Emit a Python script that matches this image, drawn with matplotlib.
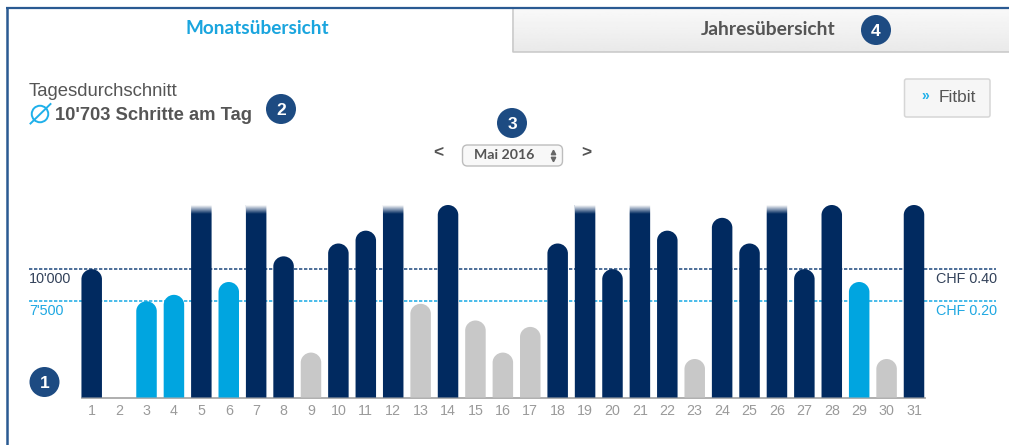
import numpy as np
import matplotlib
matplotlib.use("Agg")
import matplotlib.pyplot as plt
from matplotlib.patches import Ellipse, FancyBboxPatch, Circle
from matplotlib.path import Path
from matplotlib.transforms import blended_transform_factory

days = list(range(1, 32))
steps = [10000, 0, 7500, 8000, 15000, 9000, 15000, 11000, 3500, 12000, 13000, 15000, 7300, 15000, 6000,
         3500, 5500, 12000, 15000, 10000, 15000, 13000, 3000, 14000, 12000, 15000, 10000, 15000, 9000, 3000, 15000]
# days whose value runs past the chart top and fades out
faded_days = [5, 7, 12, 19, 21, 26]
levels = [10000, 7500]
left_labels = ["10'000", "7'500"]
right_labels = ["CHF 0.40", "CHF 0.20"]

NAVY, BLUE, GREY = "#012A60", "#00A5E0", "#C8C8C8"
TEXT = "#555555"
BADGE = "#1D4B82"
plt.rcParams["font.family"] = ["Liberation Sans", "DejaVu Sans"]

W, H = 1009, 445
fig = plt.figure(figsize=(W / 100, H / 100), dpi=100, facecolor="white")

# page chrome, in pixel coordinates
bg = fig.add_axes([0, 0, 1, 1], zorder=0)
bg.set_xlim(0, W); bg.set_ylim(H, 0); bg.axis("off")

grad = np.linspace(0.975, 0.915, 64).reshape(-1, 1)
bg.imshow(grad, extent=(512, W, 52, 9), cmap="gray", vmin=0, vmax=1, aspect="auto", zorder=1)
bg.set_xlim(0, W); bg.set_ylim(H, 0)
bg.plot([512.5, 512.5, W], [9, 52, 52], color="#C8C8C8", lw=1.1, zorder=2)
bg.plot([6.5, 6.5], [H, 8], color="#2A5A92", lw=1.8, zorder=3, solid_capstyle="butt")
bg.plot([6, W], [8, 8], color="#2A5A92", lw=1.6, zorder=3, solid_capstyle="butt")

bg.text(257, 29, "Monatsübersicht", color="#1AA5DE", fontsize=13.7, fontfamily="Lato", fontweight="bold",
        ha="center", va="center")
bg.text(768, 29.5, "Jahresübersicht", color=TEXT, fontsize=13.9, fontfamily="Lato", fontweight="bold",
        ha="center", va="center")
bg.text(29, 91, "Tagesdurchschnitt", color=TEXT, fontsize=13.3, ha="left", va="center")
bg.text(55, 115.5, "10'703 Schritte am Tag", color=TEXT, fontsize=13.2, fontweight="bold", ha="left", va="center")
bg.add_patch(Ellipse((40, 114), 16.5, 16.5, fill=False, ec="#1FB0EA", lw=1.4, zorder=3))
bg.plot([30.5, 50.5], [123.5, 104], color="#1FB0EA", lw=1.4, zorder=3)

for (cx, cy, s) in [(44.5, 382, "1"), (281, 109, "2"), (512, 123, "3"), (876, 30, "4")]:
    bg.add_patch(Circle((cx, cy), 15, fc=BADGE, ec="none", zorder=4))
    bg.text(cx, cy, s, color="white", fontsize=12.5, fontweight="bold", ha="center", va="center_baseline", zorder=5)

bg.add_patch(FancyBboxPatch((904.5, 79), 85.5, 38, boxstyle="round,pad=0,rounding_size=2",
                            fc="#F6F6F6", ec="#D6D6D6", lw=1.1, zorder=2))
bg.text(925, 96, "»", color="#1FB0EA", fontsize=10, fontweight="bold", ha="center", va="center", zorder=3)
bg.text(939, 97.5, "Fitbit", color=TEXT, fontsize=12.4, ha="left", va="center", zorder=3)

bg.add_patch(FancyBboxPatch((462.5, 145), 100, 21, boxstyle="round,pad=0,rounding_size=5",
                            fc="#F8F8F8", ec="#BDBDBD", lw=1.0, zorder=2))
bg.text(474, 155, "Mai 2016", color=TEXT, fontsize=10.2, fontweight="bold", ha="left", va="center", zorder=3,
        fontfamily="Lato")
bg.plot([553], [152], marker="^", ms=3.2, color="#666666", zorder=3)
bg.plot([553], [158.5], marker="v", ms=3.2, color="#666666", zorder=3)
bg.text(438.5, 153, "<", color=TEXT, fontsize=12.5, fontweight="bold", ha="center", va="center")
bg.text(586.5, 153, ">", color=TEXT, fontsize=12.5, fontweight="bold", ha="center", va="center")

# chart
step_px = (914 - 91.7) / 30
ax_left = 91.7 - 0.5 * step_px
ax_right = 914 + 0.5 * step_px
ax_top, ax_bottom = 205, 397.5
ax = fig.add_axes([ax_left / W, 1 - ax_bottom / H, (ax_right - ax_left) / W, (ax_bottom - ax_top) / H], zorder=1)
ax.patch.set_alpha(0)
ymax = 15000
ax.set_xlim(0.5, 31.5); ax.set_ylim(0, ymax)

def colour(v):
    if v >= levels[0]:
        return NAVY
    if v >= levels[1]:
        return BLUE
    return GREY

bw_px = 20.5
bw = bw_px / step_px
ry = 10 / (ax_bottom - ax_top) * ymax
k = 0.5523

def rounded_top(f):
    # unit-square outline of a bar whose top corners are rounded; f = cap height as a share of the bar
    verts = [(0, 0), (0, 1 - f), (0, 1 - f + k * f), (0.5 - k / 2, 1), (0.5, 1), (0.5 + k / 2, 1),
             (1, 1 - f + k * f), (1, 1 - f), (1, 0), (0, 0)]
    codes = [Path.MOVETO, Path.LINETO, Path.CURVE4, Path.CURVE4, Path.CURVE4, Path.CURVE4, Path.CURVE4, Path.CURVE4,
             Path.LINETO, Path.CLOSEPOLY]
    return Path(verts, codes)

bars = ax.bar(days, steps, width=bw, color=[colour(v) for v in steps], zorder=3, linewidth=0)
for d, v, b in zip(days, steps, bars):
    b.set_snap(False)
    if v > 0 and d not in faded_days:
        shape = rounded_top(ry / v)
        b.get_path = lambda shape=shape: shape

fade = np.ones((32, 1, 4))
fade[:, 0, 3] = np.linspace(1, 0, 32)
fade_h = 9 / (ax_bottom - ax_top) * ymax
for d in faded_days:
    ax.imshow(fade, extent=(d - bw / 2 - 0.01, d + bw / 2 + 0.01, ymax - fade_h, ymax), aspect="auto", zorder=4,
              interpolation="bilinear")
ax.set_xlim(0.5, 31.5); ax.set_ylim(0, ymax)

tr = blended_transform_factory(bg.transData, ax.transData)
line_cols = ["#2F5688", "#2BB0E6"]
text_cols = ["#33425A", "#1FA8E2"]
for lv, lab, rlab, lc, tc in zip(levels, left_labels, right_labels, line_cols, text_cols):
    ax.plot([29, 996], [lv, lv], transform=tr, color=lc, lw=1.2, ls=(0, (2, 1)), zorder=2, clip_on=False)
    off = -9.5 * ymax / (ax_bottom - ax_top)
    ax.text(29, lv + off, lab, transform=tr, color=tc, fontsize=10.4, ha="left", va="center", clip_on=False)
    ax.text(996.5, lv + off, rlab, transform=tr, color=tc, fontsize=10.4, ha="right", va="center", clip_on=False)

for s in ["top", "left", "right"]:
    ax.spines[s].set_visible(False)
ax.spines["bottom"].set_color("#A8A8A8")
ax.spines["bottom"].set_linewidth(1.3)
ax.spines["bottom"].set_bounds(0.65, 31.4)
ax.set_yticks([])
ax.set_xticks(days)
ax.set_xticklabels([str(d) for d in days])
ax.tick_params(axis="x", length=0, pad=5, labelsize=10.3, labelcolor="#9A9A9A")

fig.savefig("out.png", dpi=100)
